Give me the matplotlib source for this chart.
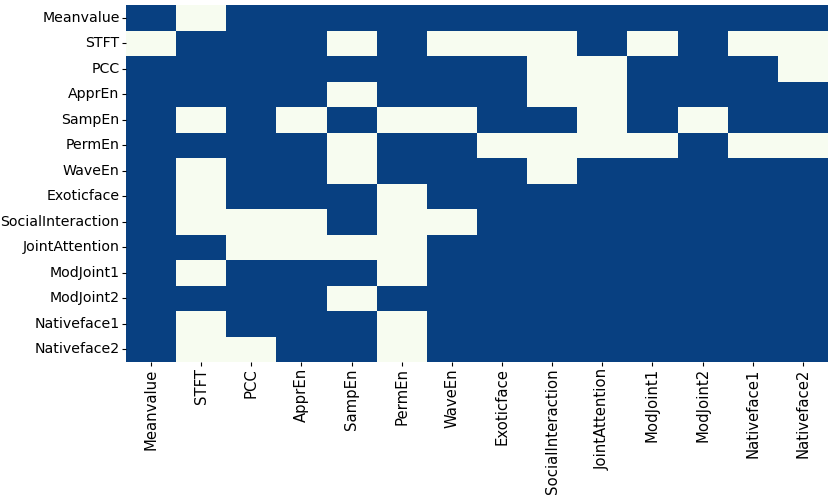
import numpy as np
import matplotlib
matplotlib.use("Agg")
import matplotlib.pyplot as plt
import seaborn as sns

labels = ["Meanvalue", "STFT", "PCC", "ApprEn", "SampEn", "PermEn", "WaveEn",
          "Exoticface", "SocialInteraction", "JointAttention", "ModJoint1",
          "ModJoint2", "Nativeface1", "Nativeface2"]

# 1 = significant (dark), 0 = not (light)
m_meanvalue = [1, 0, 1, 1, 1, 1, 1, 1, 1, 1, 1, 1, 1, 1]
m_stft      = [0, 1, 1, 1, 0, 1, 0, 0, 0, 1, 0, 1, 0, 0]
m_pcc       = [1, 1, 1, 1, 1, 1, 1, 1, 0, 0, 1, 1, 1, 0]
m_appren    = [1, 1, 1, 1, 0, 1, 1, 1, 0, 0, 1, 1, 1, 1]
m_sampen    = [1, 0, 1, 0, 1, 0, 0, 1, 1, 0, 1, 0, 1, 1]
m_permen    = [1, 1, 1, 1, 0, 1, 1, 0, 0, 0, 0, 1, 0, 0]
m_waveen    = [1, 0, 1, 1, 0, 1, 1, 1, 0, 1, 1, 1, 1, 1]
m_exotic    = [1, 0, 1, 1, 1, 0, 1, 1, 1, 1, 1, 1, 1, 1]
m_social    = [1, 0, 0, 0, 1, 0, 0, 1, 1, 1, 1, 1, 1, 1]
m_joint     = [1, 1, 0, 0, 0, 0, 1, 1, 1, 1, 1, 1, 1, 1]
m_modj1     = [1, 0, 1, 1, 1, 0, 1, 1, 1, 1, 1, 1, 1, 1]
m_modj2     = [1, 1, 1, 1, 0, 1, 1, 1, 1, 1, 1, 1, 1, 1]
m_native1   = [1, 0, 1, 1, 1, 0, 1, 1, 1, 1, 1, 1, 1, 1]
m_native2   = [1, 0, 0, 1, 1, 0, 1, 1, 1, 1, 1, 1, 1, 1]

mat = np.array([m_meanvalue, m_stft, m_pcc, m_appren, m_sampen, m_permen, m_waveen,
                m_exotic, m_social, m_joint, m_modj1, m_modj2, m_native1, m_native2])

fig = plt.figure(figsize=(8.29, 4.95), dpi=100)
ax = fig.add_axes([126/829, 1-362/495, 702/829, 357/495])
sns.heatmap(mat, cmap="GnBu", vmin=0, vmax=1, cbar=False, ax=ax,
            xticklabels=labels, yticklabels=labels)
ax.tick_params(axis="both", length=3, width=0.8, pad=1.5)
plt.setp(ax.get_xticklabels(), rotation=90, fontsize=10.7)
plt.setp(ax.get_yticklabels(), rotation=0, fontsize=10.2)

fig.savefig("out.png", dpi=100)
